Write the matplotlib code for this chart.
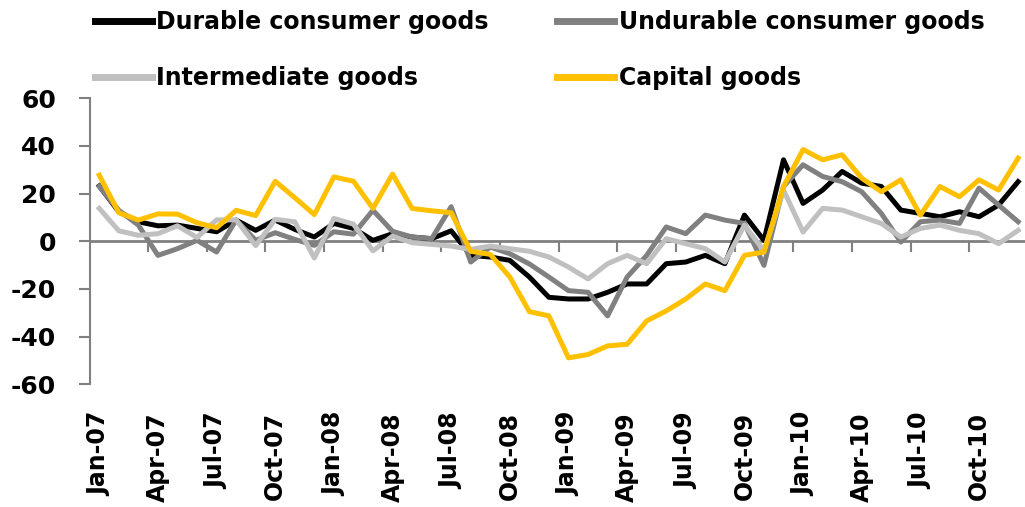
import matplotlib
matplotlib.use("Agg")
import matplotlib.pyplot as plt
import numpy as np

plt.rcParams["axes.unicode_minus"] = False

months = ["Jan-07","Feb-07","Mar-07","Apr-07","May-07","Jun-07","Jul-07","Aug-07","Sep-07","Oct-07","Nov-07","Dec-07",
          "Jan-08","Feb-08","Mar-08","Apr-08","May-08","Jun-08","Jul-08","Aug-08","Sep-08","Oct-08","Nov-08","Dec-08",
          "Jan-09","Feb-09","Mar-09","Apr-09","May-09","Jun-09","Jul-09","Aug-09","Sep-09","Oct-09","Nov-09","Dec-09",
          "Jan-10","Feb-10","Mar-10","Apr-10","May-10","Jun-10","Jul-10","Aug-10","Sep-10","Oct-10","Nov-10","Dec-10"]

durable = [23.2, 12.4, 8.2, 6.5, 6.8, 5.4, 4.0, 8.9, 4.6, 8.9, 5.0, 1.8,
           7.5, 5.4, 0.4, 3.2, 1.8, 1.1, 4.4, -5.9, -6.6, -8.0, -15.0, -23.5,
           -24.2, -24.2, -21.4, -17.9, -17.9, -9.4, -8.7, -5.9, -9.4, 11.0, 0.4, 34.2,
           15.9, 21.5, 29.3, 24.4, 23.0, 13.1, 11.7, 10.3, 12.4, 10.3, 15.2, 25.0]

undurable = [23.0, 13.0, 6.8, -5.9, -3.1, 0.4, -4.5, 8.9, 0.4, 3.6, 0.8, -1.7,
             4.0, 3.0, 13.0, 4.2, 1.8, 1.1, 14.5, -8.7, -2.4, -5.2, -9.5, -15.0,
             -20.7, -21.4, -31.3, -15.0, -5.9, 6.0, 3.2, 11.0, 8.9, 7.5, -10.1, 23.0,
             32.1, 27.2, 25.0, 20.8, 11.7, -0.3, 8.2, 8.9, 7.5, 22.3, 15.2, 8.2]

intermediate = [13.8, 4.4, 2.5, 3.2, 6.5, 1.6, 9.0, 9.0, -1.8, 9.2, 8.2, -7.0,
                9.6, 7.2, -4.0, 2.2, -0.6, -1.3, -2.0, -3.4, -2.0, -3.1, -4.2, -6.6,
                -10.8, -15.8, -9.4, -5.9, -9.4, 1.1, -1.0, -3.1, -8.7, 6.8, -4.0, 21.5,
                3.9, 13.8, 13.1, 10.3, 7.5, 1.8, 5.4, 6.8, 4.6, 3.2, -1.0, 4.6]

capital = [27.7, 12.0, 8.9, 11.5, 11.4, 7.8, 5.7, 13.0, 10.8, 25.2, 18.3, 11.2,
           27.0, 25.2, 13.8, 28.2, 13.8, 12.8, 12.0, -4.2, -5.5, -15.0, -29.5, -31.3,
           -48.9, -47.5, -43.9, -43.2, -33.4, -29.2, -24.2, -17.9, -20.7, -5.9, -4.5, 23.0,
           38.5, 34.2, 36.3, 26.5, 20.8, 25.8, 11.0, 23.0, 18.7, 25.8, 21.5, 34.9]

series_names = ["Durable consumer goods", "Undurable consumer goods", "Intermediate goods", "Capital goods"]
series_colors = ["#000000", "#808080", "#c0c0c0", "#ffc000"]

cond = ["DejaVu Sans Condensed", "DejaVu Sans"]

W, H = 1025, 507
fig = plt.figure(figsize=(W/100, H/100), dpi=100)
ax_left, ax_top, ax_bot = 89.5, 98.3, 384.3
n = len(months)
step = 19.55
ax = fig.add_axes([ax_left/W, (H-ax_bot)/H, n*step/W, (ax_bot-ax_top)/H])

x = np.arange(n)
lines = []
for data, name, col in zip([durable, undurable, intermediate, capital], series_names, series_colors):
    ln, = ax.plot(x, data, color=col, lw=3.6, label=name)
    lines.append(ln)

ax.set_xlim(-0.5, n - 0.5)
ax.set_ylim(-60, 60)
ax.set_yticks(np.arange(-60, 61, 20))
ax.tick_params(axis="y", labelsize=18, length=8, width=1.5, color="#808080", direction="out", pad=16)
for lab in ax.get_yticklabels():
    lab.set_family(cond)
    lab.set_fontweight("bold")

for s in ["top", "right"]:
    ax.spines[s].set_visible(False)
ax.spines["left"].set_color("#808080")
ax.spines["left"].set_linewidth(1.5)
ax.spines["bottom"].set_position(("data", 0))
ax.spines["bottom"].set_color("#808080")
ax.spines["bottom"].set_linewidth(2)
ax.spines["bottom"].set_zorder(1)

boundaries = np.arange(2.5, n, 3)
ax.set_xticks(boundaries)
ax.set_xticklabels([])
ax.tick_params(axis="x", length=8, width=1.5, color="#808080", direction="out")

sec = ax.secondary_xaxis(0.0)
sec.set_xticks(x[::3])
sec.set_xticklabels(months[::3], rotation=90, fontsize=17, fontweight="bold", family="DejaVu Sans")
sec.tick_params(length=0, pad=20)
sec.spines["bottom"].set_visible(False)

order = [0, 2, 1, 3]
leg = fig.legend([lines[i] for i in order], [series_names[i] for i in order],
                 loc="upper left", bbox_to_anchor=(0.072, 1.022), ncol=2, frameon=False,
                 prop={"family": cond, "weight": "bold", "size": 17},
                 handlelength=2.4, handletextpad=0.2, labelspacing=1.35, columnspacing=2.9)
for h in leg.get_lines():
    h.set_linewidth(5)

fig.savefig("out.png", dpi=100)
